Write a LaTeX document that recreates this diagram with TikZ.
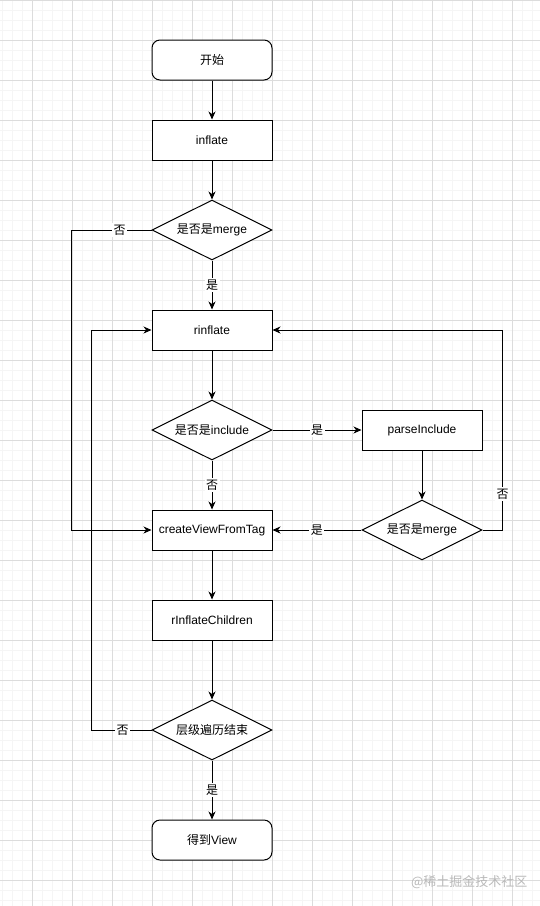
\documentclass[tikz,border=0pt]{standalone}
\usepackage{fontspec}
\setmainfont{Liberation Sans}
\newfontfamily\cjk{Noto Sans CJK SC}
\usepackage{tikz}
\usetikzlibrary{shapes.geometric}
\usetikzlibrary{positioning}
\usetikzlibrary{arrows.meta}
\definecolor{majorline}{HTML}{DCDCDC}
\definecolor{minorline}{HTML}{F5F5F5}
\tikzstyle{startstop} = [rectangle, rounded corners=8pt, minimum width=120pt, minimum height=40pt, text centered, draw=black, line width=1pt, fill=white]
\tikzstyle{process} = [rectangle, minimum width=120pt, minimum height=40pt, text centered, draw=black, line width=1pt, fill=white]
\tikzstyle{decision} = [diamond, aspect=2, minimum width=120pt, minimum height=60pt, inner sep=0pt, text centered, draw=black, line width=1pt, fill=white]
\tikzstyle{arrow} = [line width=1pt,->,>={Stealth[length=8pt,width=7pt,inset=2.5pt]}]
\tikzstyle{answer} = [fill=white, inner sep=1.5pt]
\tikzstyle{gridminor} = [step=10pt, draw=minorline, line width=0.6pt]
\tikzstyle{gridmajor} = [step=40pt, draw=majorline, line width=0.8pt]

\begin{document}
\begin{tikzpicture}[node distance=100pt, font=\fontsize{12}{14}\selectfont]
        \useasboundingbox (0,0) rectangle (540pt,-906pt);
        \fill [white] (0,0) rectangle (540pt,-906pt);
        \begin{scope}[xshift=-8pt]
            \draw [gridminor] (0,0) grid (548pt,-906pt);
            \draw [gridmajor] (0,0) grid (548pt,-906pt);
        \end{scope}

        \node (start) [startstop] at (212pt,-60pt) {\cjk 开始};
        \node (inflate) [process, below of=start, yshift=20pt] {inflate};
        \node (is_merge) [decision, below of=inflate, yshift=10pt] {{\cjk 是否是}merge};
        \node (rinflate) [process, below of=is_merge] {rinflate};
        \node (is_include) [decision, below of=rinflate] {{\cjk 是否是}include};
        \node (create_view) [process, below of=is_include] {createViewFromTag};
        \node (parse_include) [process, right of=is_include, xshift=110pt] {parseInclude};
        \node (is_merge_include) [decision, below of=parse_include] {{\cjk 是否是}merge};
        \node (inflate_children) [process, below of=create_view, yshift=10pt] {rInflateChildren};
        \node (is_end) [decision, below of=inflate_children, yshift=-10pt] {\cjk 层级遍历结束};
        \node (get_view) [startstop, below of=is_end, yshift=-10pt] {{\cjk 得到}View};
        \node (watermark) [text=gray!55, anchor=east, font=\fontsize{13}{15}\selectfont] at (531pt,-882pt) {\cjk @稀土掘金技术社区};

        \draw [arrow] (start) -- (inflate);
        \draw [arrow] (inflate) -- (is_merge);
        \draw [arrow] (is_merge) -- node[answer] {\cjk 是} (rinflate);
        \draw [arrow] (is_merge.west) -- node[answer, pos=0.4] {\cjk 否} ++(-80pt,0) |- (create_view.west);
        \draw [arrow] (rinflate) -- (is_include);
        \draw [arrow] (is_include) -- node[answer] {\cjk 是} (parse_include);
        \draw [arrow] (is_include) -- node[answer] {\cjk 否} (create_view);
        \draw [arrow] (parse_include) -- (is_merge_include);
        \draw [arrow] (is_merge_include) -- node[answer] {\cjk 是} (create_view);
        \draw [arrow] (is_merge_include.east) -- ++(20pt,0) |- node[answer, pos=0.09] {\cjk 否} (rinflate.east);
        \draw [arrow] (create_view) -- (inflate_children);
        \draw [arrow] (inflate_children) -- (is_end);
        \draw [arrow] (is_end) -- node[answer] {\cjk 是} (get_view);
        \draw [arrow] (is_end.west) -- node[answer, pos=0.48] {\cjk 否} ++(-60pt,0) |- (rinflate.west);
    \end{tikzpicture}
\end{document}
